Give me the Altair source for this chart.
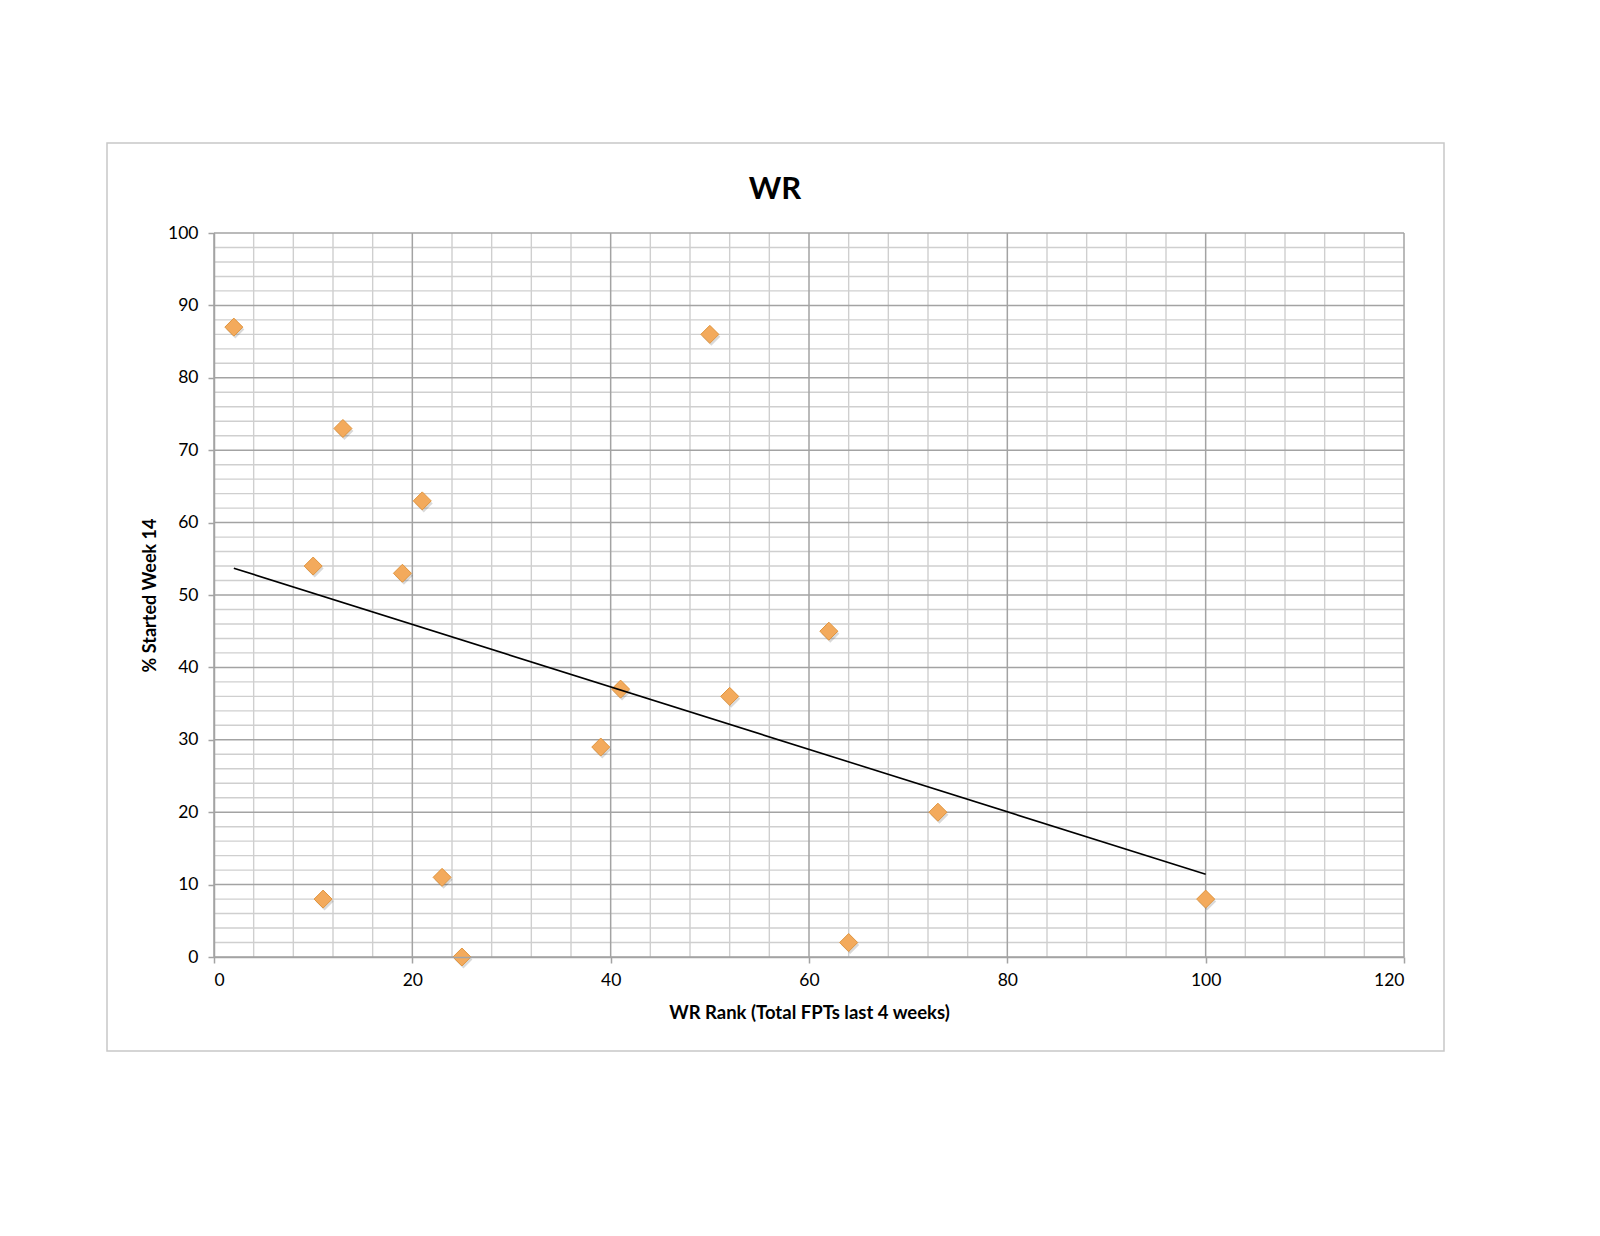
import altair as alt
import pandas as pd

# Data
wr_rank = [2, 50, 13, 21, 10, 19, 62, 41, 52, 39, 73, 23, 11, 100, 64, 25]
pct_started = [87, 86, 73, 63, 54, 53, 45, 37, 36, 29, 20, 11, 8, 8, 2, 0]

# Axis tick / grid values
x_major = [0, 20, 40, 60, 80, 100, 120]
x_minor = [4, 8, 12, 16, 24, 28, 32, 36, 44, 48, 52, 56, 64, 68, 72, 76,
           84, 88, 92, 96, 104, 108, 112, 116]
y_major = [0, 10, 20, 30, 40, 50, 60, 70, 80, 90, 100]
y_minor = [2, 4, 6, 8, 12, 14, 16, 18, 22, 24, 26, 28, 32, 34, 36, 38,
           42, 44, 46, 48, 52, 54, 56, 58, 62, 64, 66, 68, 72, 74, 76, 78,
           82, 84, 86, 88, 92, 94, 96, 98]

FONT = "Lato"
W, H = 1190, 724

df = pd.DataFrame({"x": wr_rank, "y": pct_started})
xs = alt.Scale(domain=[0, 120], nice=False, zero=False)
ys = alt.Scale(domain=[0, 100], nice=False, zero=False)

xa = alt.Axis(
    values=x_major, grid=False, title="WR Rank (Total FPTs last 4 weeks)",
    domainColor="#a3a3a3", domainWidth=1.5, tickColor="#a3a3a3", tickWidth=1.5,
    tickSize=6, labelFont=FONT, labelFontSize=17.5, labelColor="black",
    labelPadding=8, titleFont=FONT, titleFontSize=18.5, titleFontWeight="bold",
    titleColor="black", titleY=55, titleBaseline="middle", zindex=1)
ya = alt.Axis(
    values=y_major, grid=False, title="% Started Week 14",
    domainColor="#a3a3a3", domainWidth=1.5, tickColor="#a3a3a3", tickWidth=1.5,
    tickSize=6, labelFont=FONT, labelFontSize=17.5, labelColor="black",
    labelPadding=10, titleFont=FONT, titleFontSize=18, titleFontWeight="bold",
    titleColor="black", titleX=-64, titleY=H / 2, titleAngle=270,
    titleBaseline="middle", titleAlign="center", zindex=1)

frame = alt.Chart(pd.DataFrame({"a": [0]})).mark_rect(
    fillOpacity=0, stroke="#c8c8c8", strokeWidth=1.5
).encode(x=alt.value(-107), x2=alt.value(1230), y=alt.value(-90), y2=alt.value(818))

minor_v = alt.Chart(pd.DataFrame({"v": x_minor})).mark_rule(
    color="#cfcfcf", strokeWidth=1.4
).encode(x=alt.X("v:Q", scale=xs, axis=xa))
minor_h = alt.Chart(pd.DataFrame({"v": y_minor})).mark_rule(
    color="#cfcfcf", strokeWidth=1.4
).encode(y=alt.Y("v:Q", scale=ys, axis=ya))
major_v = alt.Chart(pd.DataFrame({"v": x_major})).mark_rule(
    color="#a3a3a3", strokeWidth=1.5
).encode(x=alt.X("v:Q", scale=xs, axis=xa))
major_h = alt.Chart(pd.DataFrame({"v": y_major})).mark_rule(
    color="#a3a3a3", strokeWidth=1.5
).encode(y=alt.Y("v:Q", scale=ys, axis=ya))

shadow = alt.Chart(df).mark_point(
    shape="diamond", filled=True, size=324, color="#000000", opacity=0.15,
    xOffset=1.5, yOffset=2.5
).encode(x=alt.X("x:Q", scale=xs, axis=xa), y=alt.Y("y:Q", scale=ys, axis=ya))

points = alt.Chart(df).mark_point(
    shape="diamond", filled=True, size=324, fill="#f3aa5c", stroke="#e0953f",
    strokeWidth=1, opacity=1
).encode(x=alt.X("x:Q", scale=xs, axis=xa), y=alt.Y("y:Q", scale=ys, axis=ya))

trend = alt.Chart(df).transform_regression("x", "y").mark_line(
    color="black", strokeWidth=1.6
).encode(x=alt.X("x:Q", scale=xs, axis=xa), y=alt.Y("y:Q", scale=ys, axis=ya))

chart = alt.layer(
    frame, minor_v, minor_h, major_v, major_h, shadow, points, trend
).properties(
    width=W, height=H,
    title=alt.Title("WR", font=FONT, fontSize=31, fontWeight="bold", color="black",
                    anchor="middle", frame="group", offset=0, dx=-34, dy=64),
    autosize=alt.AutoSizeParams(type="none"),
    padding={"left": 206, "top": 225, "right": 100, "bottom": 150},
).configure(background="white").configure_view(stroke=None)

chart.save("out.html", embed_options={"renderer": "svg", "actions": False})
